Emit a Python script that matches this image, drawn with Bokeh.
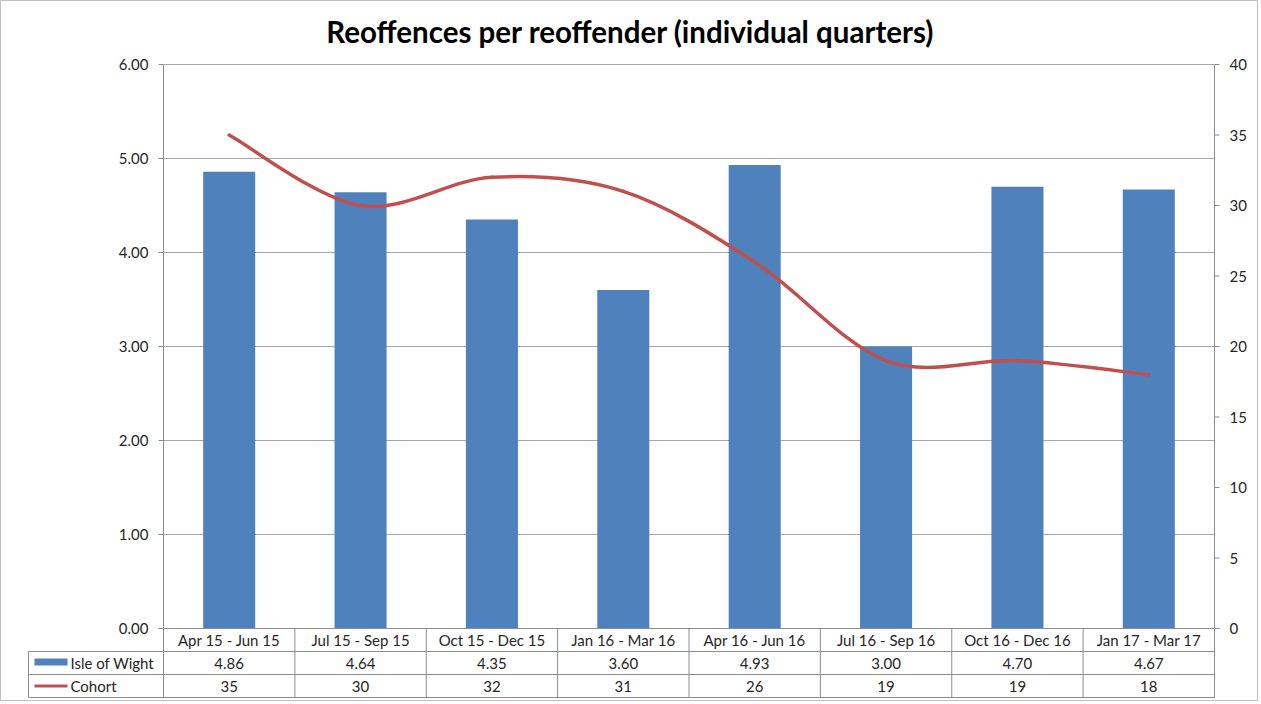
import numpy as np
from bokeh.plotting import figure
from bokeh.models import Range1d
from bokeh.core.properties import value
from bokeh.embed import file_html
from bokeh.resources import INLINE

# ---------------- data ----------------
categories = ["Apr 15 - Jun 15", "Jul 15 - Sep 15", "Oct 15 - Dec 15", "Jan 16 - Mar 16",
              "Apr 16 - Jun 16", "Jul 16 - Sep 16", "Oct 16 - Dec 16", "Jan 17 - Mar 17"]
iow = [4.86, 4.64, 4.35, 3.60, 4.93, 3.00, 4.70, 4.67]
cohort = [35, 30, 32, 31, 26, 19, 19, 18]
left_ticks = [0, 1, 2, 3, 4, 5, 6]
right_ticks = [0, 5, 10, 15, 20, 25, 30, 35, 40]
series_names = ["Isle of Wight", "Cohort"]
title = "Reoffences per reoffender (individual quarters)"

# ---------------- layout (canvas pixels) ----------------
W, H = 1258, 701
PL, PR, PT, PB = 163, 1214, 64, 628
TB = [628, 651, 674, 697]
TL = 28
LMAX, RMAX = 6.0, 40.0
n = len(categories)
cw = (PR - PL) / n
ppu = (PB - PT) / LMAX

def X(px):
    return (px - PL) / cw - 0.5

def Y(py):
    return (PB - py) / ppu

FONT = value("Lato")
FS = "15px"
GRID = "#A6A6A6"
AX = "#8C8C8C"
TXT = "#262626"
BLUE = "#4F81BD"
RED = "#C0504D"

p = figure(width=W, height=H, x_range=Range1d(X(0), X(W)), y_range=Range1d(Y(H), Y(0)),
           x_axis_type=None, y_axis_type=None, toolbar_location=None,
           output_backend="svg", min_border=0, outline_line_color="#BFBFBF",
           background_fill_color="white", border_fill_color="white")
p.extra_y_ranges = {"cohort": Range1d(Y(H) * RMAX / LMAX, Y(0) * RMAX / LMAX)}

xs = list(range(n))
x_lo, x_hi = -0.5, n - 0.5

# gridlines
gt = left_ticks[1:]
p.segment(x0=[x_lo] * len(gt), x1=[x_hi] * len(gt), y0=gt, y1=gt, line_color=GRID, line_width=1)

# bars
p.vbar(x=xs, top=iow, bottom=0, width=0.396, fill_color=BLUE, line_color=None)

# axis lines
ybot = Y(TB[3])
p.segment(x0=[x_lo, x_hi], x1=[x_lo, x_hi], y0=[LMAX, LMAX], y1=[ybot, ybot], line_color=AX, line_width=1)
p.segment(x0=[x_lo], x1=[X(PR + 5)], y0=[0], y1=[0], line_color=AX, line_width=1)
# left ticks
p.segment(x0=[X(PL - 5)] * len(left_ticks), x1=[x_lo] * len(left_ticks), y0=left_ticks, y1=left_ticks,
          line_color=AX, line_width=1)
# right ticks
p.segment(x0=[x_hi] * len(right_ticks), x1=[X(PR + 5)] * len(right_ticks), y0=right_ticks, y1=right_ticks,
          line_color=AX, line_width=1, y_range_name="cohort")

# tick labels
p.text(x=[X(PL - 15)] * len(left_ticks), y=left_ticks, text=[f"{t:.2f}" for t in left_ticks],
       text_font=FONT, text_font_size=FS, text_align="right", text_baseline="middle", text_color=TXT)
p.text(x=[X(PR + 15)] * len(right_ticks), y=right_ticks, text=[str(t) for t in right_ticks],
       text_font=FONT, text_font_size=FS, text_align="left", text_baseline="middle", text_color=TXT,
       y_range_name="cohort")

# smoothed cohort line (Bezier segments through the data points)
cx = np.array(xs, dtype=float)
cy = np.array(cohort, dtype=float)
x0, y0, x1, y1, c0x, c0y, c1x, c1y = [], [], [], [], [], [], [], []
for i in range(n - 1):
    im1 = max(i - 1, 0)
    ip2 = min(i + 2, n - 1)
    x0.append(cx[i]); y0.append(cy[i]); x1.append(cx[i + 1]); y1.append(cy[i + 1])
    c0x.append(cx[i] + (cx[i + 1] - cx[im1]) / 6); c0y.append(cy[i] + (cy[i + 1] - cy[im1]) / 6)
    c1x.append(cx[i + 1] - (cx[ip2] - cx[i]) / 6); c1y.append(cy[i + 1] - (cy[ip2] - cy[i]) / 6)
p.bezier(x0=x0, y0=y0, x1=x1, y1=y1, cx0=c0x, cy0=c0y, cx1=c1x, cy1=c1y,
         line_color=RED, line_width=3.5, line_cap="round", y_range_name="cohort")

# data table
vx = [i + 0.5 for i in range(n - 1)]
p.segment(x0=vx, x1=vx, y0=[0] * len(vx), y1=[ybot] * len(vx), line_color=AX, line_width=1)
p.segment(x0=[X(TL)], x1=[X(TL)], y0=[Y(TB[1])], y1=[ybot], line_color=AX, line_width=1)
hy = [Y(TB[1]), Y(TB[2]), Y(TB[3])]
p.segment(x0=[X(TL)] * 3, x1=[x_hi] * 3, y0=hy, y1=hy, line_color=AX, line_width=1)

row_mid = [Y((TB[k] + TB[k + 1]) / 2) for k in range(3)]
p.text(x=xs, y=[row_mid[0]] * n, text=categories, text_font=FONT, text_font_size=FS,
       text_align="center", text_baseline="middle", text_color=TXT)
p.text(x=xs, y=[row_mid[1]] * n, text=[f"{v:.2f}" for v in iow], text_font=FONT, text_font_size=FS,
       text_align="center", text_baseline="middle", text_color=TXT)
p.text(x=xs, y=[row_mid[2]] * n, text=[str(v) for v in cohort], text_font=FONT, text_font_size=FS,
       text_align="center", text_baseline="middle", text_color=TXT)

# legend keys in table
p.quad(left=[X(34)], right=[X(67)], bottom=[Y(665)], top=[Y(658)], fill_color=BLUE, line_color=None)
p.segment(x0=[X(34)], x1=[X(67)], y0=[row_mid[2]], y1=[row_mid[2]], line_color=RED, line_width=3)
p.text(x=[X(70)] * 2, y=row_mid[1:], text=series_names, text_font=FONT, text_font_size=FS,
       text_align="left", text_baseline="middle", text_color=TXT)

# title
p.text(x=[X(630)], y=[Y(31)], text=[title], text_font=FONT, text_font_size="29.5px",
       text_font_style="bold", text_align="center", text_baseline="middle", text_color="black")

open("out.html", "w").write(file_html(p, INLINE))
